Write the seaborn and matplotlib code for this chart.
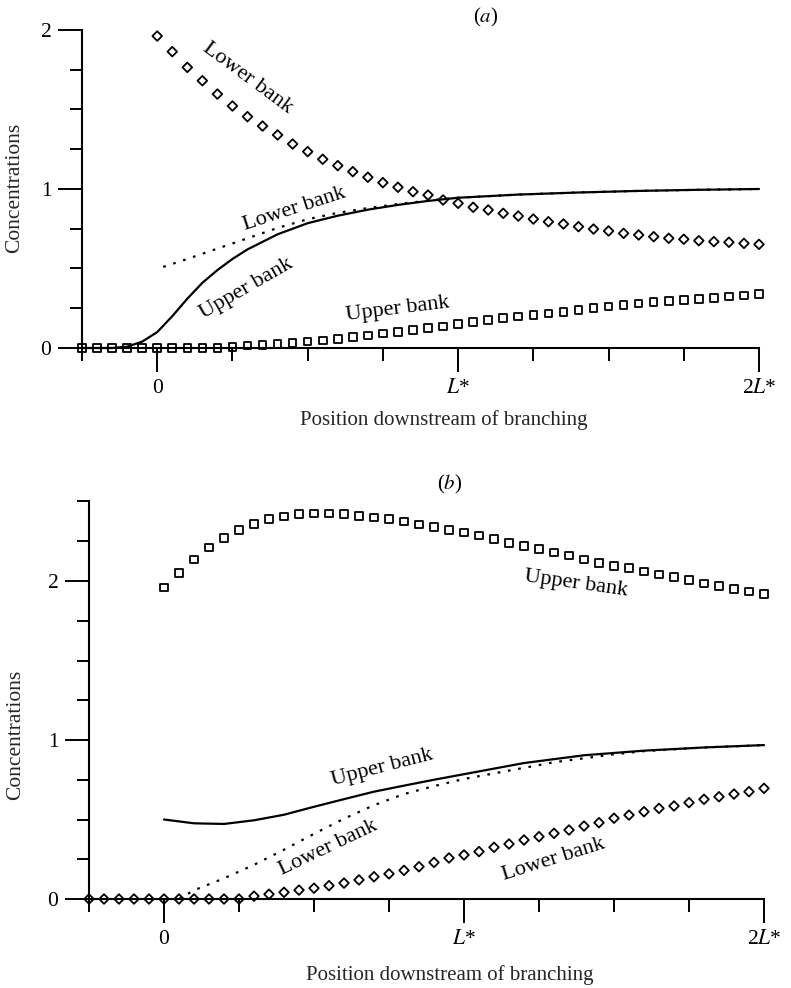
import numpy as np
import matplotlib
matplotlib.use("Agg")
from matplotlib import pyplot as plt
from matplotlib.ticker import FixedLocator
import seaborn as sns

sns.set_style("ticks", {"axes.edgecolor": "black", "xtick.color": "black",
                        "ytick.color": "black", "text.color": "black"})
plt.rcParams['font.family'] = ['Liberation Serif', 'DejaVu Serif']
plt.rcParams['mathtext.fontset'] = 'stix'

# positions along the channel, in units of L*
x_full = [-0.25, -0.2, -0.15, -0.1, -0.05, 0.0, 0.05, 0.1, 0.15, 0.2, 0.25, 0.3,
          0.35, 0.4, 0.45, 0.5, 0.55, 0.6, 0.65, 0.7, 0.75, 0.8, 0.85, 0.9, 0.95,
          1.0, 1.05, 1.1, 1.15, 1.2, 1.25, 1.3, 1.35, 1.4, 1.45, 1.5, 1.55, 1.6,
          1.65, 1.7, 1.75, 1.8, 1.85, 1.9, 1.95, 2.0]
x_down = [0.0, 0.05, 0.1, 0.15, 0.2, 0.25, 0.3, 0.35, 0.4, 0.45, 0.5, 0.55, 0.6,
          0.65, 0.7, 0.75, 0.8, 0.85, 0.9, 0.95, 1.0, 1.05, 1.1, 1.15, 1.2, 1.25,
          1.3, 1.35, 1.4, 1.45, 1.5, 1.55, 1.6, 1.65, 1.7, 1.75, 1.8, 1.85, 1.9,
          1.95, 2.0]

# ---- panel (a)
a_square_y = [0, 0, 0, 0, 0, 0, 0, 0, 0, 0, 0.008, 0.015, 0.02, 0.027, 0.033,
              0.04, 0.048, 0.056, 0.068, 0.079, 0.09, 0.102, 0.113, 0.124, 0.136,
              0.152, 0.164, 0.176, 0.187, 0.197, 0.208, 0.218, 0.228, 0.239, 0.25,
              0.26, 0.27, 0.28, 0.289, 0.296, 0.302, 0.308, 0.316, 0.323, 0.329,
              0.34]
a_diamond_y = [1.962, 1.864, 1.765, 1.681, 1.597, 1.522, 1.455, 1.396, 1.340,
               1.283, 1.235, 1.187, 1.147, 1.109, 1.074, 1.040, 1.011, 0.983,
               0.962, 0.931, 0.910, 0.885, 0.868, 0.847, 0.830, 0.811, 0.794,
               0.780, 0.763, 0.748, 0.736, 0.721, 0.711, 0.700, 0.690, 0.684,
               0.675, 0.669, 0.665, 0.658, 0.652]
a_solid_x = [-0.25, -0.15, -0.1, -0.05, 0, 0.05, 0.1, 0.15, 0.2, 0.25, 0.3, 0.4,
             0.5, 0.6, 0.7, 0.8, 0.9, 1.0, 1.2, 1.4, 1.6, 1.8, 2.0]
a_solid_y = [0, 0, 0.008, 0.04, 0.1, 0.2, 0.31, 0.41, 0.49, 0.56, 0.62, 0.715,
             0.785, 0.832, 0.87, 0.90, 0.925, 0.945, 0.965, 0.978, 0.988, 0.995, 1.0]
a_dot_x = [0.02, 0.1, 0.2, 0.3, 0.4, 0.5, 0.6, 0.7, 0.8, 0.9, 1.0, 1.2, 1.4, 1.6,
           1.8, 2.0]
a_dot_y = [0.51, 0.56, 0.625, 0.69, 0.755, 0.81, 0.85, 0.88, 0.905, 0.927, 0.945,
           0.965, 0.978, 0.988, 0.995, 1.0]

# ---- panel (b)
b_square_y = [1.96, 2.05, 2.135, 2.21, 2.27, 2.32, 2.36, 2.39, 2.405, 2.42, 2.425,
              2.425, 2.42, 2.41, 2.40, 2.39, 2.375, 2.355, 2.34, 2.32, 2.305,
              2.285, 2.265, 2.24, 2.22, 2.20, 2.18, 2.16, 2.135, 2.115, 2.095,
              2.08, 2.06, 2.04, 2.025, 2.005, 1.985, 1.97, 1.95, 1.935, 1.92]
b_diamond_y = [0, 0, 0, 0, 0, 0, 0, 0, 0, 0, 0, 0.018, 0.03, 0.042, 0.056, 0.068,
               0.084, 0.1, 0.12, 0.14, 0.158, 0.18, 0.203, 0.23, 0.258, 0.277,
               0.298, 0.325, 0.346, 0.371, 0.392, 0.413, 0.434, 0.459, 0.48,
               0.508, 0.528, 0.549, 0.57, 0.585, 0.606, 0.627, 0.643, 0.66,
               0.675, 0.696]
b_solid_x = [0, 0.1, 0.2, 0.3, 0.4, 0.5, 0.6, 0.7, 0.8, 0.9, 1.0, 1.1, 1.2, 1.4,
             1.6, 1.8, 2.0]
b_solid_y = [0.50, 0.476, 0.472, 0.495, 0.53, 0.58, 0.628, 0.675, 0.713, 0.75,
             0.785, 0.82, 0.855, 0.904, 0.933, 0.953, 0.968]
b_dot_x = [0.05, 0.1, 0.2, 0.3, 0.4, 0.5, 0.6, 0.7, 0.8, 0.9, 1.0, 1.1, 1.2, 1.3,
           1.4, 1.5, 1.6, 1.8, 2.0]
b_dot_y = [0.0, 0.055, 0.13, 0.215, 0.31, 0.41, 0.505, 0.59, 0.66, 0.71, 0.755,
           0.79, 0.825, 0.86, 0.885, 0.91, 0.93, 0.953, 0.968]

x_ticklabels = ['0', '$L$*', '2$L$*']
FS = 15

fig = plt.figure(figsize=(7.91, 9.88), dpi=100)
ax_a = fig.add_axes([82/791, 1-348/988, 677/791, 318/988])
ax_b = fig.add_axes([89/791, 1-899/988, 675/791, 397.5/988])


def style_axis(ax, ytop):
    ax.set_xlim(-0.25, 2.0)
    ax.set_ylim(0, ytop)
    sns.despine(ax=ax)
    for s in ['left', 'bottom']:
        ax.spines[s].set_linewidth(1.5)
    ax.xaxis.set_major_locator(FixedLocator([0, 1, 2]))
    ax.xaxis.set_minor_locator(FixedLocator([-0.25, 0.25, 0.5, 0.75, 1.25, 1.5, 1.75]))
    ax.set_xticklabels(x_ticklabels)
    ax.yaxis.set_major_locator(FixedLocator([0, 1, 2]))
    ax.yaxis.set_minor_locator(FixedLocator([v for v in np.arange(0, ytop + 0.01, 0.25)
                                             if v % 1 != 0]))
    ax.tick_params(which='major', direction='out', length=17, width=1.4,
                   labelsize=FS + 0.5, pad=5)
    ax.tick_params(which='minor', direction='out', length=9, width=1.4)
    ax.set_xlabel('Position downstream of branching', fontsize=FS)
    ax.set_ylabel('Concentrations', fontsize=FS + 0.5)


def draw_marks(ax, sx, sy, dx, dy, lx, ly, px, py):
    sns.lineplot(x=lx, y=ly, ax=ax, color='black', lw=1.6, clip_on=False)
    sns.lineplot(x=px, y=py, ax=ax, color='black', lw=1.6,
                 linestyle=(0, (1.2, 3.5)), clip_on=False)
    sns.scatterplot(x=sx, y=sy, ax=ax, marker='s', s=30, facecolor='none',
                    edgecolor='black', linewidth=1.3, clip_on=False, zorder=3)
    sns.scatterplot(x=dx, y=dy, ax=ax, marker='D', s=24, facecolor='none',
                    edgecolor='black', linewidth=1.3, clip_on=False, zorder=3)


# panel (a)
draw_marks(ax_a, x_full, a_square_y, x_down, a_diamond_y,
           a_solid_x, a_solid_y, a_dot_x, a_dot_y)
style_axis(ax_a, 2.0)
ax_a.xaxis.set_label_coords(0.535, -0.195)
ax_a.yaxis.set_label_coords(-0.085, 0.505)
kw = dict(fontsize=FS + 1, ha='center', va='center', rotation_mode='anchor')
ax_a.text(0.30, 1.70, 'Lower bank', rotation=-36.5, **kw)
ax_a.text(0.455, 0.874, 'Lower bank', rotation=18, **kw)
ax_a.text(0.295, 0.371, 'Upper bank', rotation=30, **kw)
ax_a.text(0.80, 0.245, 'Upper bank', rotation=7, **kw)

# panel (b)
draw_marks(ax_b, x_down, b_square_y, x_full, b_diamond_y,
           b_solid_x, b_solid_y, b_dot_x, b_dot_y)
style_axis(ax_b, 2.5)
ax_b.xaxis.set_label_coords(0.535, -0.166)
ax_b.yaxis.set_label_coords(-0.095, 0.413)
ax_b.text(1.374, 1.981, 'Upper bank', rotation=-8, **kw)
ax_b.text(0.727, 0.828, 'Upper bank', rotation=14.5, **kw)
ax_b.text(0.546, 0.319, 'Lower bank', rotation=25.5, **kw)
ax_b.text(1.30, 0.25, 'Lower bank', rotation=17.5, **kw)

fig.text(486/791, 1-17/988, '($a$)', fontsize=FS, ha='center', va='center')
fig.text(450/791, 1-484/988, '($b$)', fontsize=FS, ha='center', va='center')

fig.savefig('out.png', dpi=100)
